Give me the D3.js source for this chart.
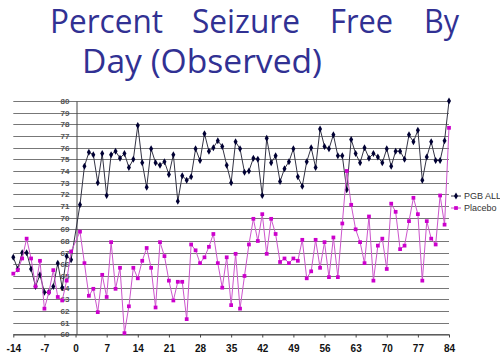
<!DOCTYPE html>
<html><head><meta charset="utf-8">
<script src="https://cdn.jsdelivr.net/npm/d3@7"></script>
<style>body{margin:0;background:#fff}svg{display:block}</style>
</head><body><svg id="c" width="500" height="359"></svg>
<script>
const titleLine1 = ["Percent", "Seizure", "Free", "By"];
const titleLine2 = "Day (Observed)";
const seriesNames = ["PGB ALL", "Placebo"];
const days = [-14,-13,-12,-11,-10,-9,-8,-7,-6,-5,-4,-3,-2,-1,
 1,2,3,4,5,6,7,8,9,10,11,12,13,14,15,16,17,18,19,20,21,22,23,24,25,26,27,28,
 29,30,31,32,33,34,35,36,37,38,39,40,41,42,43,44,45,46,47,48,49,50,51,52,53,54,55,56,
 57,58,59,60,61,62,63,64,65,66,67,68,69,70,71,72,73,74,75,76,77,78,79,80,81,82,83,84];
const pgbAll = [66.6,65.6,67.0,67.0,65.6,64.1,65.1,63.6,63.6,64.1,66.1,64.0,66.7,66.4,
 71.1,74.4,75.6,75.4,73.0,75.5,71.9,75.4,75.7,75.1,75.5,74.3,75.0,77.9,74.7,72.6,75.9,74.7,74.5,74.8,73.7,75.4,71.4,73.6,73.2,73.5,75.9,74.9,
 77.2,75.7,76.0,76.6,76.1,74.5,73.0,76.5,75.9,73.9,74.0,75.1,75.0,71.9,76.8,74.7,75.3,73.1,74.2,74.8,75.9,73.5,72.7,74.8,76.0,74.3,77.6,76.1,
 75.9,77.1,75.3,75.3,72.4,76.7,75.5,74.7,76.0,75.1,75.5,75.2,74.7,75.9,74.4,75.7,75.7,75.0,77.1,76.5,77.5,73.2,75.2,76.5,74.9,74.9,76.6,80.0];
const placebo = [65.2,65.5,66.5,68.2,66.5,64.1,66.3,62.2,63.6,65.5,63.2,62.9,64.6,67.1,
 68.8,66.1,63.3,63.9,61.9,65.1,63.2,67.9,63.9,65.7,60.1,62.4,65.7,64.8,66.3,67.4,65.7,62.3,67.9,66.7,64.6,62.9,64.5,64.5,61.3,67.7,67.2,66.1,
 66.6,67.5,68.6,66.1,64.0,66.6,62.5,66.9,62.2,65.0,67.7,69.9,68.0,70.3,66.9,69.9,68.6,66.2,66.5,66.1,66.5,66.3,68.1,64.8,65.4,68.1,65.7,67.9,
 64.9,68.3,64.9,69.5,74.0,71.1,69.0,67.9,66.1,70.1,64.6,67.6,68.2,65.6,71.2,70.5,67.3,67.6,69.7,71.7,70.3,64.6,69.7,68.2,67.7,71.9,69.4,77.7];
const xTicks = [-14,-7,0,7,14,21,28,35,42,49,56,63,70,77,84];
const yTicks = [60,61,62,63,64,65,66,67,68,69,70,71,72,73,74,75,76,77,78,79,80];

const svg = d3.select("#c");
const x = d3.scaleLinear().domain([-14, 84]).range([13.3, 449]);
const y = d3.scaleLinear().domain([60, 80]).range([334.3, 101]);

// title
const tColor = "#313193";
const line1X = [50, 192, 330, 424];
const line1W = [113, 108, 63, 35];
svg.append("g").selectAll("text").data(titleLine1).join("text")
  .attr("x", (d,i)=>line1X[i]).attr("y", 33)
  .attr("textLength", (d,i)=>line1W[i]).attr("lengthAdjust","spacingAndGlyphs")
  .attr("font-family","'Open Sans', sans-serif").attr("font-size",32)
  .attr("fill", tColor).text(d=>d);
svg.append("text").attr("x",82).attr("y",73)
  .attr("textLength",240).attr("lengthAdjust","spacingAndGlyphs")
  .attr("font-family","'Open Sans', sans-serif").attr("font-size",32)
  .attr("fill", tColor).text(titleLine2);

// gridlines
svg.append("g").selectAll("line").data(yTicks).join("line")
  .attr("x1", x(-14)).attr("x2", x(84))
  .attr("y1", d=>Math.round(y(d))+0.5).attr("y2", d=>Math.round(y(d))+0.5)
  .attr("stroke", "#777").attr("stroke-width", 1);

// y axis at x=0
const yAxis = d3.axisLeft(y).tickValues(yTicks).tickSize(0).tickPadding(7).tickFormat(d=>String(d));
const yg = svg.append("g").attr("transform", `translate(${Math.round(x(0))+0.5},0)`).call(yAxis);
yg.select(".domain").attr("stroke","#444");
yg.selectAll("text").attr("font-family","'Liberation Sans', Arial, sans-serif")
  .attr("font-size",8).attr("fill","#555").attr("font-weight","bold");

// x axis
const xAxis = d3.axisBottom(x).tickValues(xTicks).tickSize(3).tickSizeOuter(0).tickPadding(7)
  .tickFormat(d=>String(d));
const xg = svg.append("g").attr("transform", `translate(0,${Math.round(y(60))+0.5})`).call(xAxis);
xg.select(".domain").attr("stroke","#444");
xg.selectAll(".tick line").attr("stroke","#444");
xg.selectAll("text").attr("font-family","'Liberation Sans', Arial, sans-serif")
  .attr("font-size",10).attr("font-weight","bold").attr("fill","#111");

// series
const series = [
  {name: seriesNames[0], values: pgbAll, line: "#333344", mark: "#000033", sym: d3.symbolDiamond, size: 14},
  {name: seriesNames[1], values: placebo, line: "#cc55cc", mark: "#cc00cc", sym: d3.symbolSquare, size: 14}
];
const line = d3.line().x(d=>x(d[0])).y(d=>y(d[1]));
series.forEach(s => {
  const pts = days.map((d,i)=>[d, s.values[i]]);
  svg.append("path").datum(pts).attr("d", line)
    .attr("fill","none").attr("stroke", s.line).attr("stroke-width",1);
  svg.append("g").selectAll("path").data(pts).join("path")
    .attr("transform", d=>`translate(${x(d[0])},${y(d[1])})`)
    .attr("d", d3.symbol(s.sym, s.size)).attr("fill", s.mark);
});

// legend
const lg = svg.append("g");
series.forEach((s,i) => {
  const ly = 196 + i*12;
  lg.append("line").attr("x1",451).attr("x2",461).attr("y1",ly).attr("y2",ly)
    .attr("stroke", s.line).attr("stroke-width",1);
  lg.append("path").attr("transform",`translate(456,${ly})`)
    .attr("d", d3.symbol(s.sym, s.size)).attr("fill", s.mark);
  lg.append("text").attr("x",464).attr("y",ly+3)
    .attr("font-family","'Liberation Sans', Arial, sans-serif").attr("font-size",9)
    .attr("fill","#333").text(s.name);
});
</script></body></html>
